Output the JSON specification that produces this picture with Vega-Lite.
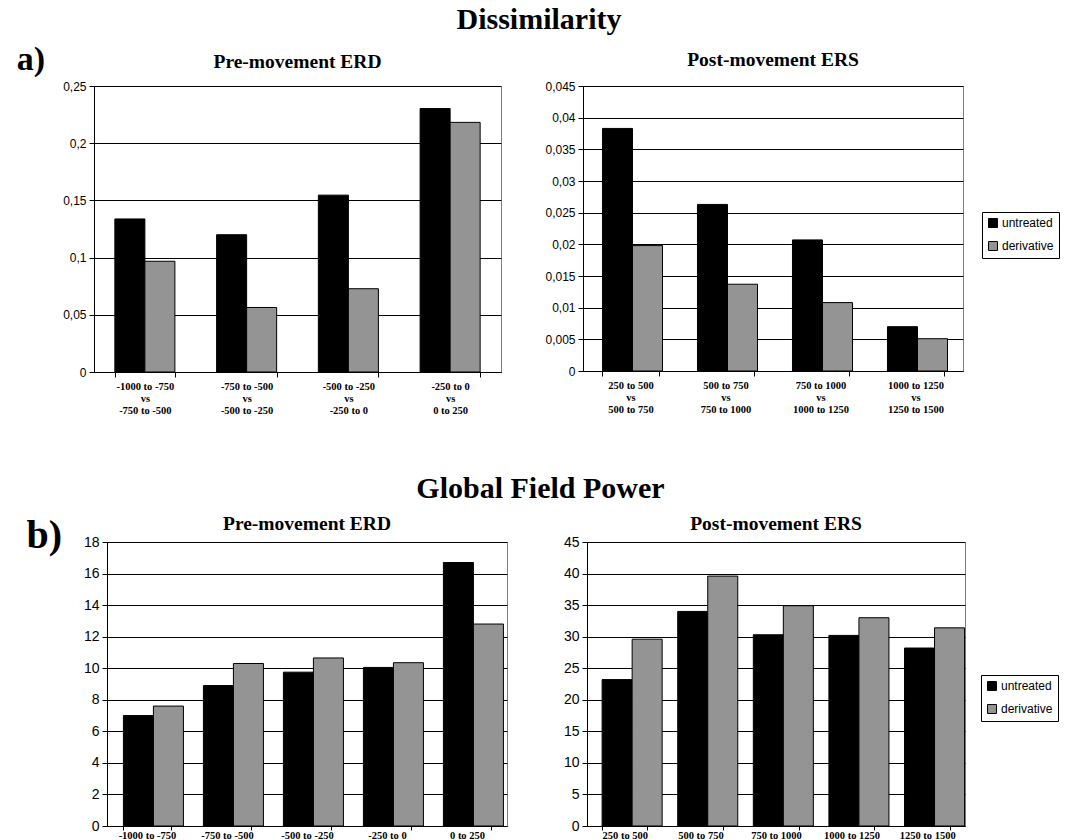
{
  "$schema": "https://vega.github.io/schema/vega-lite/v6.json",
  "background": "white",
  "padding": {"left": 8, "top": 4, "right": 5, "bottom": 0},
  "datasets": {
    "dis_pre": [
      {"comparison": "-1000 to -750 vs -750 to -500", "signal": "untreated", "value": 0.1338},
      {"comparison": "-1000 to -750 vs -750 to -500", "signal": "derivative", "value": 0.0968},
      {"comparison": "-750 to -500 vs -500 to -250", "signal": "untreated", "value": 0.1200},
      {"comparison": "-750 to -500 vs -500 to -250", "signal": "derivative", "value": 0.0564},
      {"comparison": "-500 to -250 vs -250 to 0", "signal": "untreated", "value": 0.1546},
      {"comparison": "-500 to -250 vs -250 to 0", "signal": "derivative", "value": 0.0728},
      {"comparison": "-250 to 0 vs 0 to 250", "signal": "untreated", "value": 0.2303},
      {"comparison": "-250 to 0 vs 0 to 250", "signal": "derivative", "value": 0.2182}
    ],
    "dis_post": [
      {"comparison": "250 to 500 vs 500 to 750", "signal": "untreated", "value": 0.0383},
      {"comparison": "250 to 500 vs 500 to 750", "signal": "derivative", "value": 0.0198},
      {"comparison": "500 to 750 vs 750 to 1000", "signal": "untreated", "value": 0.0263},
      {"comparison": "500 to 750 vs 750 to 1000", "signal": "derivative", "value": 0.0137},
      {"comparison": "750 to 1000 vs 1000 to 1250", "signal": "untreated", "value": 0.0207},
      {"comparison": "750 to 1000 vs 1000 to 1250", "signal": "derivative", "value": 0.0108},
      {"comparison": "1000 to 1250 vs 1250 to 1500", "signal": "untreated", "value": 0.0070},
      {"comparison": "1000 to 1250 vs 1250 to 1500", "signal": "derivative", "value": 0.0051}
    ],
    "gfp_pre": [
      {"interval": "-1000 to -750", "signal": "untreated", "value": 7.0},
      {"interval": "-1000 to -750", "signal": "derivative", "value": 7.6},
      {"interval": "-750 to -500", "signal": "untreated", "value": 8.9},
      {"interval": "-750 to -500", "signal": "derivative", "value": 10.3},
      {"interval": "-500 to -250", "signal": "untreated", "value": 9.75},
      {"interval": "-500 to -250", "signal": "derivative", "value": 10.65},
      {"interval": "-250 to 0", "signal": "untreated", "value": 10.05},
      {"interval": "-250 to 0", "signal": "derivative", "value": 10.35},
      {"interval": "0 to 250", "signal": "untreated", "value": 16.7},
      {"interval": "0 to 250", "signal": "derivative", "value": 12.8}
    ],
    "gfp_post": [
      {"interval": "250 to 500", "signal": "untreated", "value": 23.2},
      {"interval": "250 to 500", "signal": "derivative", "value": 29.6},
      {"interval": "500 to 750", "signal": "untreated", "value": 34.0},
      {"interval": "500 to 750", "signal": "derivative", "value": 39.6},
      {"interval": "750 to 1000", "signal": "untreated", "value": 30.3},
      {"interval": "750 to 1000", "signal": "derivative", "value": 34.9},
      {"interval": "1000 to 1250", "signal": "untreated", "value": 30.2},
      {"interval": "1000 to 1250", "signal": "derivative", "value": 33.0},
      {"interval": "1250 to 1500", "signal": "untreated", "value": 28.2},
      {"interval": "1250 to 1500", "signal": "derivative", "value": 31.4}
    ]
  },
  "vconcat": [
    {
      "title": {"text": "Dissimilarity", "fontSize": 30, "anchor": "middle", "offset": 8, "dx": 5},
      "spacing": 42,
      "hconcat": [
        {
          "spacing": 17,
          "hconcat": [
            {
              "width": 37, "height": 1,
              "view": {"stroke": null},
              "title": {"text": "a)", "anchor": "end", "frame": "group", "fontSize": 34, "offset": 9.5},
              "data": {"values": []},
              "mark": "text"
            },
            {
              "width": 407, "height": 286,
              "title": {"text": "Pre-movement ERD", "offset": 8},
              "data": {"name": "dis_pre"},
              "mark": {"type": "bar", "stroke": "black", "strokeWidth": 1},
              "encoding": {
                "x": {"field": "comparison", "type": "nominal", "sort": null,
                  "scale": {"paddingInner": 0.41, "paddingOuter": 0.205},
                  "axis": {"title": null, "labelAngle": 0, "tickBand": "extent", "labelFontSize": 10.5, "labelLineHeight": 12, "labelPadding": 4,
                    "labelExpr": "datum.label ? [split(datum.label, ' vs ')[0], 'vs', split(datum.label, ' vs ')[1]] : ''"}},
                "xOffset": {"field": "signal", "sort": ["untreated", "derivative"]},
                "y": {"field": "value", "type": "quantitative",
                  "scale": {"domain": [0, 0.25]},
                  "axis": {"values": [0, 0.05, 0.1, 0.15, 0.2, 0.25], "format": "~g", "labelExpr": "replace(datum.label, '.', ',')",
                    "labelFontSize": 12, "title": null}},
                "color": {"field": "signal", "type": "nominal", "sort": ["untreated", "derivative"],
                  "scale": {"domain": ["untreated", "derivative"], "range": ["#000000", "#949494"]}, "legend": null}
              }
            }
          ],
          "resolve": {"scale": {"color": "independent"}, "legend": {"color": "independent"}}
        },
        {
          "width": 380, "height": 285,
          "title": {"text": "Post-movement ERS", "offset": 10},
          "data": {"name": "dis_post"},
          "mark": {"type": "bar", "stroke": "black", "strokeWidth": 1},
          "encoding": {
            "x": {"field": "comparison", "type": "nominal", "sort": null,
              "scale": {"paddingInner": 0.41, "paddingOuter": 0.205},
              "axis": {"title": null, "labelAngle": 0, "tickBand": "extent", "labelFontSize": 10.5, "labelLineHeight": 12, "labelPadding": 4,
                "labelExpr": "datum.label ? [split(datum.label, ' vs ')[0], 'vs', split(datum.label, ' vs ')[1]] : ''"}},
            "xOffset": {"field": "signal", "sort": ["untreated", "derivative"]},
            "y": {"field": "value", "type": "quantitative",
              "scale": {"domain": [0, 0.045]},
              "axis": {"values": [0, 0.005, 0.01, 0.015, 0.02, 0.025, 0.03, 0.035, 0.04, 0.045], "format": "~g",
                "labelExpr": "replace(datum.label, '.', ',')", "labelFontSize": 12, "title": null}},
            "color": {"field": "signal", "type": "nominal", "sort": ["untreated", "derivative"],
              "scale": {"domain": ["untreated", "derivative"], "range": ["#000000", "#949494"]},
              "legend": {"orient": "none", "legendX": 399, "legendY": 126}}
          }
        }
      ],
      "resolve": {"scale": {"color": "independent"}, "legend": {"color": "independent"}}
    },
    {
      "title": {"text": "Global Field Power", "fontSize": 30, "anchor": "middle", "offset": 9, "dx": 7},
      "spacing": 54,
      "hconcat": [
        {
          "spacing": 20,
          "hconcat": [
            {
              "width": 54, "height": 1,
              "view": {"stroke": null},
              "title": {"text": "b)", "anchor": "end", "frame": "group", "fontSize": 40, "offset": -14},
              "data": {"values": []},
              "mark": "text"
            },
            {
              "width": 400, "height": 284,
              "title": {"text": "Pre-movement ERD", "offset": 1},
              "data": {"name": "gfp_pre"},
              "mark": {"type": "bar", "stroke": "black", "strokeWidth": 1},
              "encoding": {
                "x": {"field": "interval", "type": "nominal", "sort": null,
                  "scale": {"paddingInner": 0.41, "paddingOuter": 0.205},
                  "axis": {"title": null, "labelAngle": 0, "tickBand": "extent", "labelFontSize": 10.5, "labelPadding": 0, "tickSize": 4}},
                "xOffset": {"field": "signal", "sort": ["untreated", "derivative"]},
                "y": {"field": "value", "type": "quantitative",
                  "scale": {"domain": [0, 18]},
                  "axis": {"values": [0, 2, 4, 6, 8, 10, 12, 14, 16, 18], "labelFontSize": 14, "title": null}},
                "color": {"field": "signal", "type": "nominal", "sort": ["untreated", "derivative"],
                  "scale": {"domain": ["untreated", "derivative"], "range": ["#000000", "#949494"]}, "legend": null}
              }
            }
          ],
          "resolve": {"scale": {"color": "independent"}, "legend": {"color": "independent"}}
        },
        {
          "width": 378, "height": 284,
          "title": {"text": "Post-movement ERS", "offset": 1},
          "data": {"name": "gfp_post"},
          "mark": {"type": "bar", "stroke": "black", "strokeWidth": 1},
          "encoding": {
            "x": {"field": "interval", "type": "nominal", "sort": null,
              "scale": {"paddingInner": 0.4, "paddingOuter": 0.2},
              "axis": {"title": null, "labelAngle": 0, "tickBand": "extent", "labelFontSize": 10.5, "labelPadding": 0, "tickSize": 4}},
            "xOffset": {"field": "signal", "sort": ["untreated", "derivative"]},
            "y": {"field": "value", "type": "quantitative",
              "scale": {"domain": [0, 45]},
              "axis": {"values": [0, 5, 10, 15, 20, 25, 30, 35, 40, 45], "labelFontSize": 14, "title": null}},
            "color": {"field": "signal", "type": "nominal", "sort": ["untreated", "derivative"],
              "scale": {"domain": ["untreated", "derivative"], "range": ["#000000", "#949494"]},
              "legend": {"orient": "none", "legendX": 394, "legendY": 133}}
          }
        }
      ],
      "resolve": {"scale": {"color": "independent"}, "legend": {"color": "independent"}}
    }
  ],
  "spacing": 58,
  "resolve": {"scale": {"color": "independent"}, "legend": {"color": "independent"}},
  "config": {
    "view": {"stroke": "#808080", "strokeWidth": 1},
    "title": {"font": "Liberation Serif", "fontWeight": "bold", "fontSize": 19.5, "color": "black", "anchor": "middle"},
    "axis": {"labelFont": "Liberation Sans", "labelColor": "black", "domainColor": "black", "tickColor": "black", "tickSize": 5,
      "gridColor": "black", "gridWidth": 1, "gridOpacity": 1, "labelPadding": 3},
    "axisX": {"labelFont": "Liberation Serif", "labelFontWeight": "bold", "grid": false},
    "axisY": {"grid": true},
    "legend": {"title": null, "strokeColor": "black", "fillColor": "white", "padding": 5, "labelFont": "Liberation Sans",
      "labelFontSize": 12, "labelColor": "black", "symbolType": "square", "symbolSize": 80, "symbolStrokeColor": "black",
      "symbolStrokeWidth": 1, "rowPadding": 9, "labelOffset": 3, "cornerRadius": 0}
  }
}
